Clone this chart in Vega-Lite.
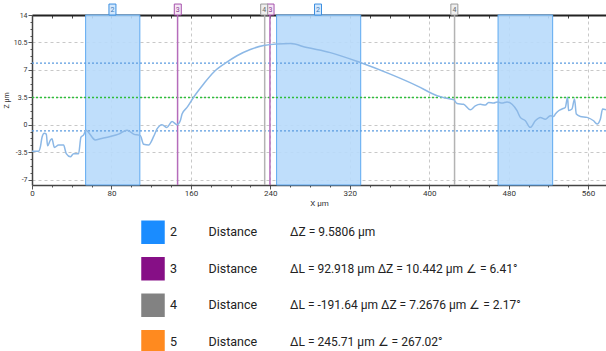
{
  "$schema": "https://vega.github.io/schema/vega-lite/v6.json",
  "padding": {"left": 2, "top": 3, "right": 0, "bottom": 0},
  "background": "white",
  "spacing": 7,
  "config": {"view": {"stroke": null}, "font": "Roboto"},
  "resolve": {"scale": {"x": "independent", "y": "independent", "color": "independent"}},
  "datasets": {
    "profile": [
      {"x": 0, "z": -3.4}, {"x": 6.6, "z": -3.4}, {"x": 8.5, "z": -2.8}, {"x": 10.1, "z": -1.6}, {"x": 12.4, "z": -1.1},
      {"x": 14.4, "z": -1.2}, {"x": 15.7, "z": -2.7}, {"x": 18.4, "z": -2.0}, {"x": 20.1, "z": -1.8}, {"x": 22.5, "z": -2.9},
      {"x": 26.8, "z": -2.6}, {"x": 31.8, "z": -2.6}, {"x": 34.5, "z": -3.7}, {"x": 38.6, "z": -4.1}, {"x": 41.9, "z": -3.7},
      {"x": 46.9, "z": -3.7}, {"x": 49.3, "z": -1.6}, {"x": 52.0, "z": -1.3}, {"x": 54.4, "z": -0.7}, {"x": 57.0, "z": -1.0},
      {"x": 63.7, "z": -1.95}, {"x": 68.8, "z": -1.8}, {"x": 78.9, "z": -1.5}, {"x": 87.2, "z": -1.2}, {"x": 95.7, "z": -0.7},
      {"x": 102.3, "z": -1.2}, {"x": 109.1, "z": -1.4}, {"x": 112.4, "z": -2.5}, {"x": 117.4, "z": -2.6}, {"x": 122.5, "z": -1.5},
      {"x": 125.9, "z": -0.55}, {"x": 130.9, "z": 0}, {"x": 135.9, "z": -0.35}, {"x": 141.0, "z": 0.4}, {"x": 146.0, "z": 0},
      {"x": 149.3, "z": 0.5}, {"x": 151.1, "z": 1.36}, {"x": 156.1, "z": 2.2}, {"x": 162.7, "z": 3.5}, {"x": 172.8, "z": 5.2},
      {"x": 182.9, "z": 6.7}, {"x": 194.7, "z": 7.85}, {"x": 206.4, "z": 8.8}, {"x": 219.8, "z": 9.6}, {"x": 233.2, "z": 10.1},
      {"x": 246.7, "z": 10.3}, {"x": 260.1, "z": 10.35}, {"x": 276.9, "z": 9.84}, {"x": 300.4, "z": 9.2}, {"x": 330.6, "z": 7.93},
      {"x": 360.8, "z": 6.45}, {"x": 387.7, "z": 4.96}, {"x": 407.9, "z": 3.7}, {"x": 421.3, "z": 3.27}, {"x": 424.6, "z": 3.2},
      {"x": 428.0, "z": 2.7}, {"x": 434.6, "z": 2.6}, {"x": 441.4, "z": 1.9}, {"x": 446.4, "z": 2.4}, {"x": 451.4, "z": 2.6},
      {"x": 456.5, "z": 2.5}, {"x": 459.8, "z": 2.84}, {"x": 464.9, "z": 2.76}, {"x": 468.3, "z": 2.9}, {"x": 473.3, "z": 2.76},
      {"x": 478.3, "z": 2.9}, {"x": 483.4, "z": 2.6}, {"x": 488.4, "z": 1.78}, {"x": 491.7, "z": 0.93}, {"x": 496.8, "z": 0.5},
      {"x": 501.8, "z": -0.34}, {"x": 506.8, "z": 0.5}, {"x": 511.9, "z": 0.93}, {"x": 516.9, "z": 0.7}, {"x": 521.9, "z": 1.15},
      {"x": 525.3, "z": 1.05}, {"x": 527.0, "z": 1.36}, {"x": 530.3, "z": 1.78}, {"x": 533.7, "z": 2.0}, {"x": 537.0, "z": 2.2},
      {"x": 539.3, "z": 3.5}, {"x": 540.3, "z": 1.8}, {"x": 543.7, "z": 2.0}, {"x": 546.3, "z": 3.27}, {"x": 548.1, "z": 1.36},
      {"x": 552.2, "z": 1.05}, {"x": 558.9, "z": 0.93}, {"x": 565.5, "z": 0.5}, {"x": 569.0, "z": 0.1}, {"x": 572.3, "z": 0.7},
      {"x": 574.6, "z": 2.0}, {"x": 578, "z": 1.9}
    ],
    "bands": [
      {"start": 54, "end": 108.6}, {"start": 246.3, "end": 331}, {"start": 469.3, "end": 524.3}
    ],
    "hlines": [
      {"z": 7.85, "kind": "blue"}, {"z": -0.8, "kind": "blue"}, {"z": 3.47, "kind": "green"}
    ],
    "markers": [
      {"x": 146.6, "id": "3"}, {"x": 239.6, "id": "3"}, {"x": 234.3, "id": "4"}, {"x": 425.5, "id": "4"}
    ],
    "tags": [
      {"x": 81, "id": "2"}, {"x": 288, "id": "2"}, {"x": 146.8, "id": "3"}, {"x": 240.2, "id": "3"}, {"x": 233.8, "id": "4"}, {"x": 425.3, "id": "4"}
    ],
    "legend": [
      {"id": "2", "label": "Distance", "value": "ΔZ = 9.5806 µm"},
      {"id": "3", "label": "Distance", "value": "ΔL = 92.918 µm ΔZ = 10.442 µm ∠ = 6.41°"},
      {"id": "4", "label": "Distance", "value": "ΔL = -191.64 µm ΔZ = 7.2676 µm ∠ = 2.17°"},
      {"id": "5", "label": "Distance", "value": "ΔL = 245.71 µm ∠ = 267.02°"}
    ]
  },
  "vconcat": [
    {
      "width": 574,
      "height": 170,
      "resolve": {"axis": {"x": "independent", "y": "independent"}, "scale": {"color": "independent", "fill": "independent", "stroke": "independent"}},
      "layer": [
        {
          "data": {"name": "bands"},
          "mark": {"type": "rect", "fill": "#b8dafb", "stroke": "#5ea9f0", "strokeWidth": 1, "fillOpacity": 0.9},
          "encoding": {
            "x": {"field": "start", "type": "quantitative", "scale": {"domain": [0, 578], "nice": false, "zero": false}, "axis": null},
            "x2": {"field": "end"}
          }
        },
        {
          "data": {"name": "hlines"},
          "mark": {"type": "rule", "strokeDash": [2, 2], "strokeWidth": 1.3},
          "encoding": {
            "y": {"field": "z", "type": "quantitative", "axis": null},
            "stroke": {"field": "kind", "type": "nominal", "scale": {"domain": ["blue", "green"], "range": ["#5b9be0", "#2fbf3a"]}, "legend": null}
          }
        },
        {
          "data": {"name": "markers"},
          "mark": {"type": "rule", "strokeWidth": 1.5},
          "encoding": {
            "x": {"field": "x", "type": "quantitative", "axis": null},
            "color": {"field": "id", "type": "nominal", "scale": {"domain": ["3", "4"], "range": ["#b56cbb", "#b3b3b3"]}, "legend": null}
          }
        },
        {
          "data": {"name": "profile"},
          "mark": {"type": "line", "color": "#8cb8e6", "strokeWidth": 1.5, "interpolate": "monotone"},
          "encoding": {
            "x": {
              "field": "x", "type": "quantitative",
              "axis": {
                "orient": "bottom", "title": "X µm", "titleFontSize": 8, "titleFontWeight": "normal", "titleColor": "#333", "titlePadding": 2,
                "values": [0, 20, 40, 60, 80, 100, 120, 140, 160, 180, 200, 220, 240, 260, 280, 300, 320, 340, 360, 380, 400, 420, 440, 460, 480, 500, 520, 540, 560],
                "labelExpr": "datum.value % 80 === 0 ? '' + datum.value : ''",
                "labelFontSize": 8, "labelColor": "#333", "labelPadding": 0, "labelFlush": false, "labelOverlap": false,
                "domainColor": "#444", "domainWidth": 1.5,
                "tickColor": "#555",
                "tickSize": {"condition": {"test": "datum.value % 80 === 0", "value": 4}, "value": 2},
                "grid": true, "gridColor": "#c8c8c8", "gridDash": [3, 3],
                "gridOpacity": {"condition": {"test": "datum.value % 80 === 0 && datum.value > 0", "value": 1}, "value": 0}
              }
            },
            "y": {
              "field": "z", "type": "quantitative",
              "scale": {"domain": [-7.7, 14], "nice": false, "zero": false},
              "axis": {
                "orient": "left",
                "title": "Z µm", "titleFontSize": 7, "titleFontWeight": "normal", "titleColor": "#333", "titlePadding": 4,
                "values": [-7, -6.125, -5.25, -4.375, -3.5, -2.625, -1.75, -0.875, 0, 0.875, 1.75, 2.625, 3.5, 4.375, 5.25, 6.125, 7, 7.875, 8.75, 9.625, 10.5, 11.375, 12.25, 13.125, 14],
                "labelExpr": "abs(datum.value / 3.5 - round(datum.value / 3.5)) < 0.001 ? '' + datum.value : ''",
                "labelFontSize": 7, "labelColor": "#333", "labelPadding": 1, "labelOverlap": false, "labelFlush": false,
                "domainColor": "#444", "domainWidth": 1.5,
                "tickColor": "#555",
                "tickSize": {"condition": {"test": "abs(datum.value / 3.5 - round(datum.value / 3.5)) < 0.001", "value": 4}, "value": 2},
                "grid": true, "gridColor": "#c8c8c8", "gridDash": [3, 3],
                "gridOpacity": {"condition": {"test": "abs(datum.value / 3.5 - round(datum.value / 3.5)) < 0.001 && datum.value < 14", "value": 1}, "value": 0}
              }
            }
          }
        },
        {
          "data": {"name": "tags"},
          "mark": {"type": "rect", "xOffset": -3.5, "x2Offset": 3.5, "strokeWidth": 1},
          "encoding": {
            "x": {
              "field": "x", "type": "quantitative",
              "axis": {
                "orient": "top", "title": null, "labels": false, "grid": false,
                "values": [0, 20, 40, 60, 80, 100, 120, 140, 160, 180, 200, 220, 240, 260, 280, 300, 320, 340, 360, 380, 400, 420, 440, 460, 480, 500, 520, 540, 560],
                "tickSize": -3, "tickColor": "#444", "domainColor": "#222", "domainWidth": 2
              }
            },
            "x2": {"field": "x"},
            "y": {"datum": 15.4, "axis": null},
            "y2": {"datum": 14},
            "fill": {"field": "id", "type": "nominal", "scale": {"domain": ["2", "3", "4"], "range": ["#d3e8fd", "#f5e6f5", "#efefef"]}, "legend": null},
            "stroke": {"field": "id", "type": "nominal", "scale": {"domain": ["2", "3", "4"], "range": ["#3d8fe0", "#a552ab", "#9a9a9a"]}, "legend": null}
          }
        },
        {
          "data": {"name": "tags"},
          "mark": {"type": "text", "fontSize": 7, "baseline": "middle", "align": "center"},
          "encoding": {
            "x": {"field": "x", "type": "quantitative", "axis": null},
            "y": {"datum": 14.7, "axis": null},
            "text": {"field": "id"},
            "color": {"field": "id", "type": "nominal", "scale": {"domain": ["2", "3", "4"], "range": ["#3a78b8", "#8a3a90", "#666666"]}, "legend": null}
          }
        }
      ]
    },
    {
      "data": {"name": "legend"},
      "spacing": 0,
      "bounds": "flush",
      "hconcat": [
        {
          "width": 109, "height": 146,
          "mark": {"type": "text"},
          "encoding": {
            "y": {"field": "id", "type": "nominal", "scale": {"domain": ["2", "3", "4", "5"]}, "axis": null},
            "text": {"value": ""}
          }
        },
        {
          "width": 24, "height": 146,
          "mark": {"type": "square", "size": 552, "opacity": 1, "filled": true},
          "encoding": {
            "y": {"field": "id", "type": "nominal", "scale": {"domain": ["2", "3", "4", "5"]}, "axis": null},
            "color": {"field": "id", "type": "nominal", "scale": {"domain": ["2", "3", "4", "5"], "range": ["#1a8cff", "#860f86", "#828282", "#ff8a1f"]}, "legend": null}
          }
        },
        {
          "width": 10, "height": 146,
          "mark": {"type": "text", "align": "left", "baseline": "middle", "fontSize": 12.5, "color": "#222"},
          "encoding": {
            "y": {"field": "id", "type": "nominal", "scale": {"domain": ["2", "3", "4", "5"]}, "axis": null},
            "text": {"field": "id"}
          }
        },
        {
          "width": 67, "height": 146,
          "mark": {"type": "text", "align": "left", "baseline": "middle", "fontSize": 12.5, "color": "#222"},
          "encoding": {
            "y": {"field": "id", "type": "nominal", "scale": {"domain": ["2", "3", "4", "5"]}, "axis": null},
            "text": {"field": "label"}
          }
        },
        {
          "width": 96, "height": 146,
          "mark": {"type": "text", "align": "left", "baseline": "middle", "fontSize": 12, "color": "#222"},
          "encoding": {
            "y": {"field": "id", "type": "nominal", "scale": {"domain": ["2", "3", "4", "5"]}, "axis": null},
            "text": {"field": "value"}
          }
        }
      ]
    }
  ]
}
